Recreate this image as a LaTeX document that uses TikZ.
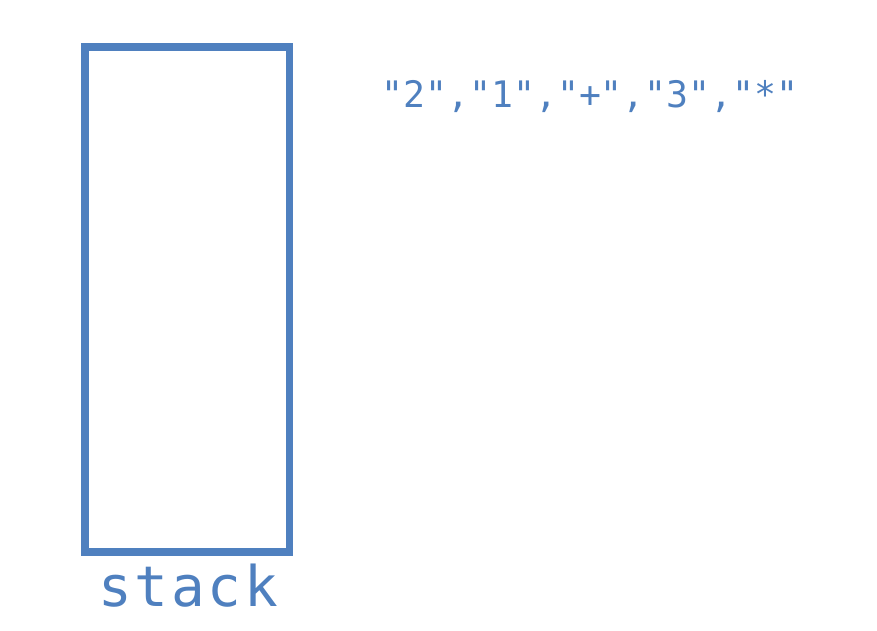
\documentclass[tikz,border=0pt]{standalone}
\usepackage{fontspec}
\newfontfamily\pixmono{DejaVu Sans Mono}
\newfontfamily\pixmonowide[LetterSpace=5]{DejaVu Sans Mono}
\definecolor{stackblue}{HTML}{4F80BF}
\begin{document}
\begin{tikzpicture}[x=1pt,y=-1pt,
  lbl/.style={text=stackblue,inner sep=0pt,anchor=base},
  box/.style={draw=stackblue,line width=7.5pt}]
\useasboundingbox (0,0) rectangle (877,631);
\node[box,minimum width=204.5pt,minimum height=505pt,inner sep=0pt] (stack) at (187.25,299.5) {};
\node[lbl,font=\pixmonowide\fontsize{56}{56}\selectfont] (stacklabel) at (188,606) {stack};
\node[lbl,font=\pixmono\fontsize{36.5}{36.5}\selectfont] (tokens) at (590,108) {"2","1","+","3","*"};
\end{tikzpicture}
\end{document}
